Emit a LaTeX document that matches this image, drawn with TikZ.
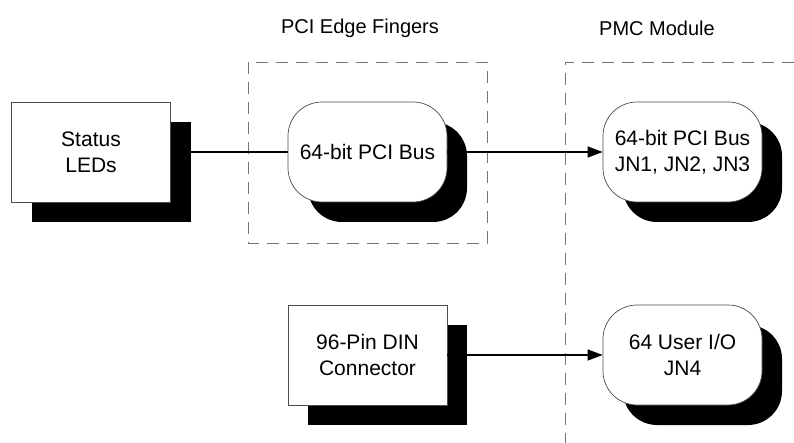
\documentclass[tikz,border=0pt]{standalone}
\usepackage{fontspec}
\setmainfont{Liberation Sans}
\usetikzlibrary{shadows,arrows.meta}

\begin{document}
\begin{tikzpicture}[x=1pt,y=-1pt,
		block/.style={draw=black!70, line width=0.7pt, fill=white, minimum width=159pt, minimum height=100pt, align=center, font=\fontsize{21}{26}\selectfont, inner sep=0pt, drop shadow={shadow xshift=20pt, shadow yshift=-20pt, fill=black, opacity=1}},
		bus/.style={block, rounded corners=34pt},
		frame/.style={draw=black!55, line width=0.9pt, dash pattern=on 12pt off 8pt},
		link/.style={line width=1.2pt}]
				\useasboundingbox (0,0) rectangle (794,443);
				
				% Titles
				\node (tedge) at (360, 28) {\fontsize{20}{24}\selectfont PCI Edge Fingers};
				\node (tpmc) at (657, 28) {\fontsize{20}{24}\selectfont PMC Module};
				
				% Frames
				\draw[frame] (248,62) rectangle (487,243);
				\draw[frame] (794,62) -- (565,62) -- (565,443);
				
				% Blocks
				\node[block] (leds) at (91, 152) {Status\\LEDs};
				\node[bus] (pcibus) at (367.5, 152) {64-bit PCI Bus};
				\node[bus] (pmcbus) at (682.5, 152) {64-bit PCI Bus\\JN1, JN2, JN3};
				\node[block] (din) at (367.5, 355) {96-Pin DIN\\Connector};
				\node[bus] (userio) at (682.5, 355) {64 User I/O\\JN4};
				
				% Links
				\draw[link] (leds) -- (pcibus); % status to edge fingers
				\draw[link, -{Triangle[length=15pt,width=11pt]}] (pcibus) -- (pmcbus); % edge fingers to module
				\draw[link, -{Triangle[length=15pt,width=11pt]}] (din) -- (userio); % din to user i/o
			\end{tikzpicture}
\end{document}
